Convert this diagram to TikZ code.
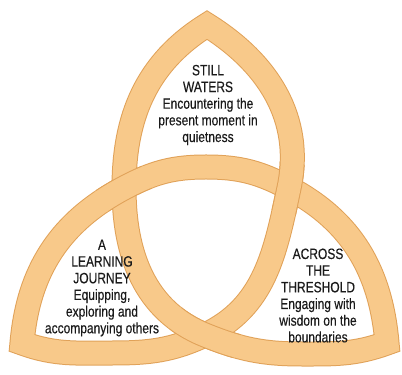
\documentclass[tikz,border=0pt]{standalone}
\usepackage{fontspec}
\setmainfont{Liberation Sans}[FakeStretch=0.8,FakeBold=0.4]
\definecolor{ink}{HTML}{1A1A1A}
\definecolor{band}{HTML}{F8C98A}
\definecolor{bandedge}{HTML}{E0A158}

\begin{document}
\begin{tikzpicture}[x=.75pt,y=.75pt,text=ink,
  edge/.style={draw=bandedge,line width=18.75pt,line join=miter},
  fillband/.style={draw=band,line width=17.25pt,line join=miter},
  label/.style={align=center,inner sep=0pt,
    font=\fontsize{11.25}{12.5}\selectfont}]
\useasboundingbox (0,0) rectangle (402,374);

% tips, crossings and turning points of the band's centre line
\coordinate (tipT) at (207,349);
\coordinate (tipL) at (22,31);
\coordinate (tipR) at (387,31);
\coordinate (xAB) at (124,186);
\coordinate (xAC) at (289,186);
\coordinate (xBC) at (205,39);
\coordinate (topA) at (206,207);
\coordinate (botB) at (302,20);
\coordinate (botC) at (112,21);

% A: the whole band in one path, so the three tips come out pointed
\foreach \sty in {edge,fillband}
  \draw[\sty] (xAB) to[out=208,in=85] (tipL)
    to[out=340,in=180] (botC) to[out=0,in=205] (xBC)
    to[out=25,in=258] (xAC) to[out=78,in=328] (tipT)
    to[out=212,in=90] (xAB) to[out=270,in=158] (xBC)
    to[out=338,in=180] (botB) to[out=0,in=200] (tipR)
    to[out=95,in=332] (xAC) to[out=152,in=0] (topA)
    to[out=180,in=28] (xAB);

% B: over-crossings, redrawn inside a small disc round each crossing
\foreach \sty/\r in {edge/28,fillband/29.5} {
  \begin{scope}
    \clip (xAB) circle[radius=\r];
    \draw[\sty] (xAC) to[out=152,in=0] (topA) to[out=180,in=28] (xAB)
      to[out=208,in=85] (tipL);
  \end{scope}
  \begin{scope}
    \clip (xAC) circle[radius=\r];
    \draw[\sty] (xBC) to[out=25,in=258] (xAC) to[out=78,in=328] (tipT);
  \end{scope}
  \begin{scope}
    \clip (xBC) circle[radius=\r+8];
    \draw[\sty] (xAB) to[out=270,in=158] (xBC) to[out=338,in=180] (botB);
  \end{scope}
}

% C: the texts in the three leaves
\node[label] (still) at (208,269)
  {STILL\\WATERS\\Encountering the\\present moment in\\quietness};
\node[label] (journey) at (102,86)
  {A\\LEARNING\\JOURNEY\\Equipping,\\exploring and\\accompanying others};
\node[label] (threshold) at (318,78.5)
  {ACROSS\\THE\\THRESHOLD\\Engaging with\\wisdom on the\\boundaries};
\end{tikzpicture}
\end{document}
